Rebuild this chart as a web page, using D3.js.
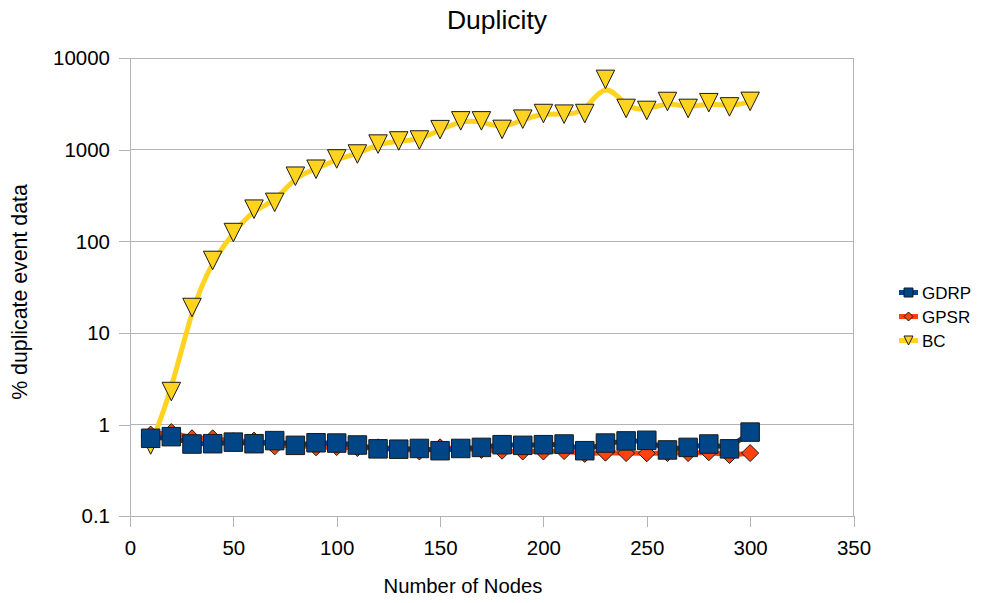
<!DOCTYPE html>
<html>
<head>
<meta charset="utf-8">
<script src="https://cdn.jsdelivr.net/npm/d3@7"></script>
<style>
  html, body { margin: 0; padding: 0; background: #fff; }
  svg { display: block; font-family: "Liberation Sans", Arial, sans-serif; }
</style>
</head>
<body>
<svg id="chart" width="982" height="603"></svg>
<script>
// Number of nodes in the network
const nodes = [10, 20, 30, 40, 50, 60, 70, 80, 90, 100, 110, 120, 130, 140, 150,
               160, 170, 180, 190, 200, 210, 220, 230, 240, 250, 260, 270, 280, 290, 300];

// % duplicate event data per protocol
const gdrp = [0.71, 0.74, 0.615, 0.62, 0.645, 0.62, 0.67, 0.595, 0.635, 0.63,
              0.60, 0.545, 0.54, 0.55, 0.52, 0.55, 0.565, 0.605, 0.595, 0.605,
              0.615, 0.52, 0.63, 0.665, 0.675, 0.53, 0.565, 0.615, 0.545, 0.83];
const gpsr = [0.78, 0.83, 0.71, 0.71, 0.66, 0.67, 0.58, 0.60, 0.566, 0.57,
              0.556, 0.566, 0.55, 0.51, 0.566, 0.55, 0.53, 0.52, 0.51, 0.51,
              0.515, 0.48, 0.495, 0.49, 0.487, 0.49, 0.49, 0.50, 0.466, 0.49];
const bc   = [0.6, 2.3, 19, 62, 125, 225, 267, 515, 614, 795,
              900, 1155, 1250, 1280, 1660, 2070, 2070, 1670, 2160, 2490,
              2450, 2490, 5870, 2830, 2690, 3370, 2830, 3270, 2940, 3380];

const seriesNames = ["GDRP", "GPSR", "BC"];
const xTicks = [0, 50, 100, 150, 200, 250, 300, 350];
const yTicks = [0.1, 1, 10, 100, 1000, 10000];

const colors = { GDRP: "#004586", GPSR: "#ff420e", BC: "#ffd320" };
const shapes = { GDRP: "square", GPSR: "diamond", BC: "triangle" };

const svg = d3.select("#chart");
const plotLeft = 130, plotRight = 853.5, plotTop = 58.2, plotBottom = 516.3;

const x = d3.scaleLinear().domain([0, 350]).range([plotLeft, plotRight]);
const y = d3.scaleLog().domain([0.1, 10000]).range([plotBottom, plotTop]);

// horizontal gridlines
svg.append("g").selectAll("line").data(yTicks).join("line")
  .attr("x1", plotLeft).attr("x2", plotRight)
  .attr("y1", d => y(d)).attr("y2", d => y(d))
  .attr("stroke", "#b3b3b3").attr("stroke-width", 1)
  .attr("shape-rendering", "crispEdges");

// plot frame (top and right)
svg.append("path")
  .attr("d", `M${plotLeft},${plotTop}H${plotRight}V${plotBottom}`)
  .attr("fill", "none").attr("stroke", "#b3b3b3")
  .attr("shape-rendering", "crispEdges");

// axes
const xAxis = svg.append("g").attr("transform", `translate(0,${plotBottom})`)
  .call(d3.axisBottom(x).tickValues(xTicks).tickSize(11).tickPadding(13).tickFormat(d3.format("d")));
const yAxis = svg.append("g").attr("transform", `translate(${plotLeft},0)`)
  .call(d3.axisLeft(y).tickValues(yTicks).tickSize(11).tickPadding(9)
    .tickFormat(d => d < 1 ? String(d) : d3.format("d")(d)));
[xAxis, yAxis].forEach(a => {
  a.select(".domain").attr("stroke", "#b3b3b3").attr("shape-rendering", "crispEdges");
  a.selectAll(".tick line").attr("stroke", "#b3b3b3").attr("shape-rendering", "crispEdges");
  a.selectAll(".tick text").attr("fill", "#000").attr("font-size", "20.5px")
    .attr("font-family", "Liberation Sans, Arial, sans-serif");
});

// titles
svg.append("text").attr("x", 497).attr("y", 29).attr("text-anchor", "middle")
  .attr("font-size", "26.5px").text("Duplicity");
svg.append("text").attr("x", 463).attr("y", 593).attr("text-anchor", "middle")
  .attr("font-size", "20.3px").text("Number of Nodes");
svg.append("text").attr("transform", "translate(27,292) rotate(-90)")
  .attr("text-anchor", "middle").attr("font-size", "21.3px").text("% duplicate event data");

// marker shapes
function markerPath(shape, s) {
  const h = s / 2;
  if (shape === "square") return `M${-h},${-h}H${h}V${h}H${-h}Z`;
  if (shape === "diamond") return `M0,${-h}L${h},0L0,${h}L${-h},0Z`;
  return `M${-h},${-h}H${h}L0,${h}Z`;
}
const markerSize = { GDRP: 18.5, GPSR: 17, BC: 18.5 };

const data = { GDRP: gdrp, GPSR: gpsr, BC: bc };
const line = d3.line().x(d => x(d[0])).y(d => y(d[1])).curve(d3.curveBasis);

// draw BC first so the lower series sit on top
["BC", "GPSR", "GDRP"].forEach(name => {
  const pts = nodes.map((n, i) => [n, data[name][i]]);
  const g = svg.append("g");
  g.append("path").datum(pts).attr("d", line)
    .attr("fill", "none").attr("stroke", colors[name]).attr("stroke-width", 5)
    .attr("stroke-linejoin", "round");
  g.selectAll("path.m").data(pts).join("path").attr("class", "m")
    .attr("transform", d => `translate(${x(d[0])},${y(d[1])})`)
    .attr("d", markerPath(shapes[name], markerSize[name]))
    .attr("fill", colors[name]).attr("stroke", "#1a1a1a").attr("stroke-width", 1);
});

// legend
const legend = svg.append("g");
seriesNames.forEach((name, i) => {
  const ly = 292.5 + i * 24;
  legend.append("line").attr("x1", 899).attr("x2", 918).attr("y1", ly).attr("y2", ly)
    .attr("stroke", colors[name]).attr("stroke-width", 5);
  legend.append("path").attr("transform", `translate(908.5,${ly})`)
    .attr("d", markerPath(shapes[name], 9))
    .attr("fill", colors[name]).attr("stroke", "#1a1a1a").attr("stroke-width", 1);
  legend.append("text").attr("x", 922).attr("y", ly).attr("dy", "0.36em")
    .attr("font-size", "17px").text(name);
});
</script>
</body>
</html>
